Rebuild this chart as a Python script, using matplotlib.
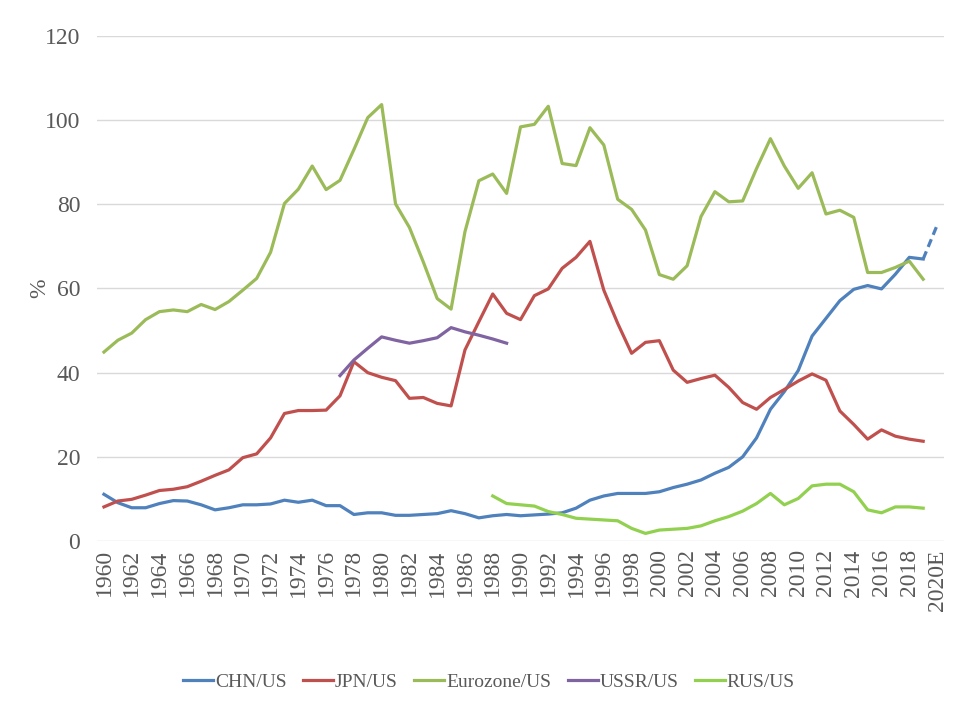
import matplotlib
matplotlib.use("Agg")
import matplotlib.pyplot as plt
import numpy as np

# categories: 1960..2019 plus the 2020 estimate
years = [str(y) for y in range(1960, 2020)] + ["2020E"]

chn_us = [11.1, 9.1, 7.9, 7.9, 8.9, 9.6, 9.5, 8.6, 7.4, 7.9,
          8.6, 8.6, 8.8, 9.7, 9.2, 9.7, 8.4, 8.4, 6.3, 6.7,
          6.7, 6.1, 6.1, 6.3, 6.5, 7.2, 6.5, 5.5, 6.0, 6.3,
          6.0, 6.2, 6.4, 6.7, 7.8, 9.7, 10.7, 11.3, 11.3, 11.3,
          11.7, 12.7, 13.5, 14.5, 16.1, 17.5, 20.0, 24.5, 31.3, 35.5,
          40.5, 48.7, 52.9, 57.1, 59.8, 60.7, 59.9, 63.4, 67.4, 67.0]
chn_us_2020e = 75.0

jpn_us = [8.1, 9.5, 9.9, 10.9, 12.0, 12.3, 12.9, 14.2, 15.6, 16.9,
          19.8, 20.7, 24.5, 30.3, 31.0, 31.0, 31.1, 34.5, 42.6, 40.0,
          38.9, 38.1, 33.9, 34.1, 32.7, 32.1, 45.4, 52.1, 58.7, 54.1,
          52.6, 58.3, 59.9, 64.8, 67.4, 71.2, 59.6, 51.7, 44.6, 47.2,
          47.6, 40.6, 37.7, 38.6, 39.4, 36.5, 32.9, 31.3, 34.1, 36.0,
          38.0, 39.7, 38.2, 30.9, 27.7, 24.2, 26.4, 24.9, 24.2, 23.7]

eurozone_us = [44.9, 47.7, 49.4, 52.6, 54.5, 54.9, 54.5, 56.2, 55.0, 56.9,
               59.6, 62.4, 68.6, 80.2, 83.6, 89.1, 83.5, 85.7, 93.0, 100.6,
               103.7, 80.1, 74.5, 66.3, 57.6, 55.1, 73.5, 85.6, 87.2, 82.6,
               98.4, 99.0, 103.3, 89.7, 89.2, 98.2, 94.1, 81.2, 78.8, 73.9,
               63.3, 62.2, 65.4, 77.1, 83.0, 80.6, 80.8, 88.5, 95.6, 89.1,
               83.8, 87.5, 77.7, 78.6, 76.9, 63.8, 63.8, 65.0, 66.5, 62.2]

# 1977-1989
ussr_us = [39.3, 43.0, 45.8, 48.5, 47.7, 47.0, 47.6, 48.3, 50.7, 49.7,
           48.9, 48.0, 47.0]

# 1988-2019
rus_us = [10.7, 8.9, 8.6, 8.3, 7.0, 6.3, 5.4, 5.2, 5.0, 4.8,
          3.0, 1.8, 2.6, 2.8, 3.0, 3.6, 4.8, 5.8, 7.1, 8.9,
          11.3, 8.6, 10.1, 13.1, 13.5, 13.5, 11.7, 7.4, 6.7, 8.1,
          8.1, 7.8]

plt.rcParams['font.family'] = ['Liberation Serif', 'DejaVu Serif']
grey = '#595959'
lw = 2.3

fig = plt.figure(figsize=(9.74, 7.14), dpi=100)
ax = fig.add_axes([0.0996, 0.2423, 0.8696, 0.7073])

x = np.arange(len(years))
i77 = years.index('1977')
i88 = years.index('1988')
n = len(chn_us)

ax.plot(x[:n], chn_us, color='#4F81BD', lw=lw, label='CHN/US')
ax.plot([x[n - 1], x[n]], [chn_us[-1], chn_us_2020e], color='#4F81BD', lw=lw,
        dashes=(2.6, 1.5))
ax.plot(x[:n], jpn_us, color='#C0504D', lw=lw, label='JPN/US')
ax.plot(x[:n], eurozone_us, color='#9BBB59', lw=lw, label='Eurozone/US')
ax.plot(x[i77:i77 + len(ussr_us)], ussr_us, color='#8064A2', lw=lw, label='USSR/US')
ax.plot(x[i88:i88 + len(rus_us)], rus_us, color='#92D050', lw=lw, label='RUS/US')

ax.set_xlim(-0.5, len(years) - 0.5)
ax.set_ylim(0, 120)
ax.set_yticks(np.arange(0, 121, 20))
ax.set_xticks(x[::2])
ax.set_xticklabels(years[::2], rotation=90)
ax.tick_params(axis='both', length=0, labelsize=17, colors=grey)
ax.tick_params(axis='y', pad=12)
ax.tick_params(axis='x', pad=6)
ax.grid(axis='y', color='#D9D9D9', lw=1)
ax.set_axisbelow(True)
for s in ax.spines.values():
    s.set_visible(False)

ax.set_ylabel('%', fontsize=17, color=grey)
ax.yaxis.set_label_coords(-0.055, 0.5)

fig.legend(loc='center', bbox_to_anchor=(0.502, 0.045), ncol=5, frameon=False,
           fontsize=14, labelcolor=grey, handlelength=1.55, handletextpad=0.08,
           columnspacing=0.85)

fig.savefig('out.png', dpi=100)
